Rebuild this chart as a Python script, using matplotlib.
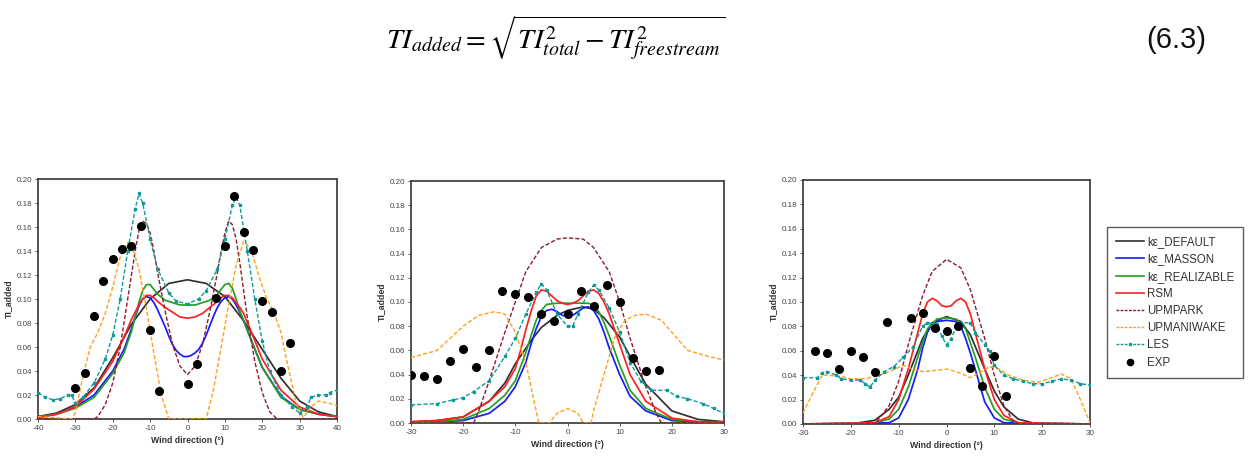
import matplotlib
matplotlib.use("Agg")
import matplotlib.pyplot as plt
from matplotlib.lines import Line2D

plt.rcParams['font.family'] = ['Liberation Sans', 'DejaVu Sans']
plt.rcParams['mathtext.fontset'] = 'stix'
plt.rcParams['axes.unicode_minus'] = False

# ---------------- Panel 1 data ----------------
p1_def_x = [-40, -35, -30, -25, -20, -15, -10, -5, 0, 5, 10, 15, 20, 25, 30, 35, 40]
p1_def_y = [0.002, 0.005, 0.012, 0.026, 0.051, 0.079, 0.100, 0.113, 0.116, 0.113, 0.102, 0.082, 0.058, 0.034, 0.015, 0.006, 0.002]
p1_mas_x = [-40, -35, -30, -25, -20, -17, -15, -14, -13, -12, -11, -10, -9, -8, -7, -6, -5, -4, -3, -2, -1, 0,
            1, 2, 3, 4, 5, 6, 7, 8, 9, 10, 11, 12, 13, 14, 15, 17, 20, 25, 30, 35, 40]
p1_mas_y = [0.002, 0.004, 0.010, 0.020, 0.040, 0.058, 0.075, 0.085, 0.094, 0.100, 0.102, 0.101, 0.097, 0.091, 0.084, 0.077, 0.069, 0.062, 0.057, 0.054, 0.052, 0.052,
            0.053, 0.055, 0.058, 0.063, 0.070, 0.078, 0.086, 0.093, 0.098, 0.101, 0.102, 0.100, 0.095, 0.089, 0.082, 0.066, 0.043, 0.019, 0.008, 0.004, 0.002]
p1_rea_x = [-40, -35, -30, -25, -20, -17, -15, -14, -13, -12, -11, -10, -9, -8, -6, -4, -2, 0, 2, 4, 6, 8, 9, 10, 11, 12, 13, 14, 15, 17, 20, 25, 30, 35, 40]
p1_rea_y = [0.002, 0.004, 0.009, 0.018, 0.038, 0.055, 0.073, 0.085, 0.097, 0.107, 0.112, 0.112, 0.108, 0.104, 0.099, 0.097, 0.095, 0.095, 0.095, 0.097, 0.099, 0.104, 0.108, 0.112, 0.113, 0.109, 0.100, 0.090, 0.082, 0.066, 0.043, 0.018, 0.008, 0.004, 0.002]
p1_rsm_x = [-40, -35, -30, -25, -20, -17, -15, -14, -13, -12, -11, -10, -9, -8, -6, -4, -2, 0, 2, 4, 6, 8, 9, 10, 11, 12, 13, 14, 15, 17, 20, 25, 30, 35, 40]
p1_rsm_y = [0.001, 0.004, 0.010, 0.025, 0.048, 0.068, 0.083, 0.089, 0.095, 0.100, 0.103, 0.103, 0.101, 0.098, 0.093, 0.089, 0.085, 0.084, 0.085, 0.088, 0.093, 0.098, 0.101, 0.103, 0.103, 0.101, 0.097, 0.093, 0.088, 0.073, 0.050, 0.024, 0.010, 0.004, 0.002]
p1_park_x = [-40, -25, -24, -22, -20, -18, -16, -14, -13, -12, -11, -10, -9, -8, -6, -4, -2, 0, 2, 4, 6, 8, 9, 10, 11, 12, 13, 14, 16, 18, 20, 22, 24, 40]
p1_park_y = [0.0, 0.0, 0.002, 0.012, 0.030, 0.060, 0.100, 0.140, 0.157, 0.165, 0.163, 0.155, 0.140, 0.122, 0.090, 0.062, 0.044, 0.037, 0.044, 0.062, 0.090, 0.122, 0.140, 0.155, 0.165, 0.162, 0.150, 0.130, 0.085, 0.048, 0.022, 0.006, 0.0, 0.0]
p1_mani_x = [-40, -35, -31, -30, -28, -26, -24, -22, -20, -18, -16, -15, -13, -11, -9, -7, -5, 5, 7, 9, 11, 13, 15, 17, 19, 21, 23, 25, 27, 29, 31, 33, 35, 38, 40]
p1_mani_y = [0.002, 0.001, 0.0, 0.005, 0.035, 0.060, 0.072, 0.088, 0.110, 0.135, 0.147, 0.146, 0.125, 0.092, 0.055, 0.020, 0.0, 0.0, 0.025, 0.060, 0.095, 0.128, 0.148, 0.142, 0.120, 0.102, 0.090, 0.072, 0.042, 0.015, 0.001, 0.010, 0.015, 0.013, 0.011]
p1_les_x = [-40, -38, -36, -34, -32, -31, -30, -28, -25, -22, -20, -18, -16, -14, -13, -12, -10, -8, -5, -3, 0, 3, 5, 8, 10, 12, 13, 14, 16, 18, 20, 22, 25, 28, 30, 32, 33, 35, 37, 38, 40]
p1_les_y = [0.022, 0.018, 0.016, 0.017, 0.020, 0.020, 0.013, 0.018, 0.030, 0.050, 0.070, 0.100, 0.140, 0.175, 0.188, 0.180, 0.150, 0.125, 0.105, 0.098, 0.096, 0.100, 0.107, 0.125, 0.150, 0.178, 0.185, 0.178, 0.140, 0.100, 0.065, 0.040, 0.020, 0.010, 0.005, 0.010, 0.018, 0.020, 0.020, 0.022, 0.024]
p1_exp_x = [-30, -27.5, -25, -22.5, -20, -17.5, -15, -12.5, -10, -7.5, 0, 2.5, 7.5, 10, 12.5, 15, 17.5, 20, 22.5, 25, 27.5]
p1_exp_y = [0.026, 0.038, 0.086, 0.115, 0.133, 0.142, 0.144, 0.161, 0.074, 0.023, 0.029, 0.046, 0.101, 0.144, 0.186, 0.156, 0.141, 0.098, 0.089, 0.040, 0.063]

# ---------------- Panel 2 data ----------------
p2_def_x = [-30, -25, -20, -15, -12, -10, -7, -5, -2, 0, 3, 5, 7, 10, 12, 15, 20, 25, 30]
p2_def_y = [0.001, 0.002, 0.005, 0.018, 0.033, 0.049, 0.068, 0.079, 0.089, 0.093, 0.096, 0.094, 0.087, 0.071, 0.055, 0.032, 0.010, 0.003, 0.001]
p2_mas_x = [-30, -25, -20, -15, -12, -10, -8, -7, -6, -5, -4, -3, -2, -1, 0, 1, 2, 3, 4, 5, 6, 7, 8, 10, 12, 15, 20, 25, 30]
p2_mas_y = [0.0, 0.001, 0.002, 0.008, 0.018, 0.030, 0.050, 0.065, 0.078, 0.088, 0.093, 0.094, 0.092, 0.089, 0.088, 0.089, 0.092, 0.095, 0.096, 0.093, 0.086, 0.075, 0.062, 0.040, 0.022, 0.010, 0.002, 0.001, 0.0]
p2_rea_x = [-30, -25, -20, -15, -12, -10, -8, -7, -6, -5, -4, -2, 0, 2, 4, 5, 6, 7, 8, 10, 12, 15, 20, 25, 30]
p2_rea_y = [0.0, 0.001, 0.003, 0.012, 0.023, 0.035, 0.058, 0.072, 0.085, 0.093, 0.098, 0.099, 0.099, 0.099, 0.099, 0.097, 0.092, 0.083, 0.072, 0.048, 0.027, 0.012, 0.003, 0.001, 0.0]
p2_rsm_x = [-30, -25, -20, -15, -12, -10, -9, -8, -7, -6, -5, -4, -3, -2, -1, 0, 1, 2, 3, 4, 5, 6, 7, 8, 10, 12, 15, 20, 25, 30]
p2_rsm_y = [0.001, 0.002, 0.005, 0.018, 0.030, 0.045, 0.060, 0.077, 0.092, 0.105, 0.110, 0.109, 0.105, 0.101, 0.099, 0.098, 0.099, 0.101, 0.105, 0.109, 0.110, 0.107, 0.100, 0.090, 0.065, 0.040, 0.018, 0.004, 0.001, 0.001]
p2_park_x = [-30, -18, -17, -15, -12, -10, -8, -5, -2, 0, 3, 5, 8, 10, 12, 15, 17, 18, 30]
p2_park_y = [0.0, 0.0, 0.010, 0.035, 0.075, 0.100, 0.125, 0.145, 0.152, 0.153, 0.152, 0.145, 0.125, 0.100, 0.070, 0.030, 0.008, 0.0, 0.0]
p2_mani_x = [-30, -25, -20, -17, -14, -12, -10, -8, -6, -5.5, -3.5, -2, 0, 2, 3, 4.5, 5, 7, 9, 11, 13, 15, 18, 20, 23, 27, 30]
p2_mani_y = [0.054, 0.060, 0.080, 0.089, 0.092, 0.090, 0.075, 0.050, 0.010, 0.0, 0.0, 0.008, 0.012, 0.008, 0.0, 0.0, 0.010, 0.040, 0.070, 0.085, 0.089, 0.090, 0.085, 0.075, 0.060, 0.055, 0.052]
p2_les_x = [-30, -25, -22, -20, -18, -15, -12, -10, -8, -6, -5, -4, -2, 0, 1, 2, 4, 5, 6, 8, 10, 12, 14, 16, 19, 21, 23, 26, 28, 30]
p2_les_y = [0.015, 0.016, 0.019, 0.021, 0.026, 0.035, 0.055, 0.070, 0.090, 0.108, 0.115, 0.110, 0.090, 0.080, 0.080, 0.090, 0.108, 0.114, 0.110, 0.095, 0.075, 0.050, 0.035, 0.027, 0.027, 0.022, 0.020, 0.016, 0.012, 0.008]
p2_exp_x = [-30, -27.5, -25, -22.5, -20, -17.5, -15, -12.5, -10, -7.5, -5, -2.5, 0, 2.5, 5, 7.5, 10, 12.5, 15, 17.5]
p2_exp_y = [0.040, 0.039, 0.036, 0.051, 0.061, 0.046, 0.060, 0.109, 0.107, 0.104, 0.090, 0.084, 0.090, 0.109, 0.097, 0.114, 0.100, 0.054, 0.043, 0.044]

# ---------------- Panel 3 data ----------------
p3_def_x = [-30, -20, -15, -12, -10, -8, -5, -3, 0, 3, 5, 8, 10, 12, 15, 18, 20, 30]
p3_def_y = [0.0, 0.0, 0.003, 0.012, 0.022, 0.040, 0.070, 0.083, 0.088, 0.084, 0.073, 0.045, 0.027, 0.014, 0.004, 0.001, 0.0, 0.0]
p3_mas_x = [-30, -12, -10, -8, -6, -5, -4, -3, -2, 0, 2, 3, 4, 5, 6, 8, 10, 12, 30]
p3_mas_y = [0.0, 0.001, 0.005, 0.020, 0.045, 0.062, 0.075, 0.082, 0.084, 0.085, 0.084, 0.080, 0.070, 0.058, 0.045, 0.018, 0.005, 0.001, 0.0]
p3_rea_x = [-30, -15, -12, -10, -8, -6, -4, -2, 0, 2, 4, 6, 8, 10, 12, 15, 30]
p3_rea_y = [0.0, 0.001, 0.004, 0.012, 0.030, 0.055, 0.078, 0.086, 0.087, 0.086, 0.078, 0.055, 0.030, 0.012, 0.004, 0.001, 0.0]
p3_rsm_x = [-30, -15, -12, -10, -8, -6, -5, -4, -3, -2, -1, 0, 1, 2, 3, 4, 5, 6, 8, 10, 12, 15, 30]
p3_rsm_y = [0.0, 0.001, 0.006, 0.020, 0.045, 0.075, 0.090, 0.100, 0.103, 0.101, 0.097, 0.096, 0.097, 0.101, 0.103, 0.100, 0.090, 0.075, 0.045, 0.020, 0.007, 0.001, 0.0]
p3_park_x = [-30, -15, -12, -10, -8, -5, -3, 0, 3, 5, 8, 10, 12, 14, 15, 30]
p3_park_y = [0.0, 0.0, 0.015, 0.035, 0.065, 0.105, 0.125, 0.135, 0.128, 0.110, 0.070, 0.040, 0.015, 0.002, 0.0, 0.0]
p3_mani_x = [-30, -28, -26, -25, -22, -20, -17, -14, -12, -9, -7, -5, -2, 0, 2, 5, 7, 9, 11, 13, 16, 19, 22, 24, 26, 28, 30]
p3_mani_y = [0.009, 0.025, 0.040, 0.040, 0.039, 0.037, 0.037, 0.040, 0.043, 0.048, 0.045, 0.043, 0.044, 0.045, 0.043, 0.038, 0.042, 0.047, 0.045, 0.040, 0.036, 0.034, 0.038, 0.041, 0.037, 0.020, 0.001]
p3_les_x = [-30, -27, -26, -25, -23, -22, -20, -18, -17, -16, -15, -13, -11, -9, -7, -5, -4, -2, -1, 0, 1, 2, 3, 5, 6, 8, 9, 10, 12, 14, 16, 18, 20, 22, 24, 26, 28, 30]
p3_les_y = [0.038, 0.038, 0.042, 0.043, 0.040, 0.037, 0.036, 0.036, 0.033, 0.030, 0.036, 0.043, 0.047, 0.055, 0.063, 0.080, 0.083, 0.082, 0.072, 0.065, 0.070, 0.080, 0.083, 0.083, 0.075, 0.065, 0.060, 0.048, 0.040, 0.037, 0.035, 0.033, 0.033, 0.035, 0.037, 0.036, 0.033, 0.032]
p3_exp_x = [-27.5, -25, -22.5, -20, -17.5, -15, -12.5, -7.5, -5, -2.5, 0, 2.5, 5, 7.5, 10, 12.5]
p3_exp_y = [0.060, 0.058, 0.045, 0.060, 0.055, 0.043, 0.084, 0.087, 0.091, 0.079, 0.076, 0.080, 0.046, 0.031, 0.056, 0.023]

labels = ["k\u03b5_DEFAULT", "k\u03b5_MASSON", "k\u03b5_REALIZABLE", "RSM", "UPMPARK", "UPMANIWAKE", "LES", "EXP"]
colors = ["#303030", "#1a1aff", "#22a022", "#ff2020", "#8b1a2a", "#ffa020", "#119999", "black"]

panels = [
    dict(pos=(38, 179, 337, 419), xlim=(-40, 40), xt=range(-40, 41, 10),
         data=[(p1_def_x, p1_def_y), (p1_mas_x, p1_mas_y), (p1_rea_x, p1_rea_y), (p1_rsm_x, p1_rsm_y),
               (p1_park_x, p1_park_y), (p1_mani_x, p1_mani_y), (p1_les_x, p1_les_y), (p1_exp_x, p1_exp_y)]),
    dict(pos=(411, 181, 724, 423), xlim=(-30, 30), xt=range(-30, 31, 10),
         data=[(p2_def_x, p2_def_y), (p2_mas_x, p2_mas_y), (p2_rea_x, p2_rea_y), (p2_rsm_x, p2_rsm_y),
               (p2_park_x, p2_park_y), (p2_mani_x, p2_mani_y), (p2_les_x, p2_les_y), (p2_exp_x, p2_exp_y)]),
    dict(pos=(803, 180, 1090, 424), xlim=(-30, 30), xt=range(-30, 31, 10),
         data=[(p3_def_x, p3_def_y), (p3_mas_x, p3_mas_y), (p3_rea_x, p3_rea_y), (p3_rsm_x, p3_rsm_y),
               (p3_park_x, p3_park_y), (p3_mani_x, p3_mani_y), (p3_les_x, p3_les_y), (p3_exp_x, p3_exp_y)]),
]

W, H = 1251, 471
fig = plt.figure(figsize=(W / 100, H / 100), dpi=100)
fig.patch.set_facecolor("white")

for p in panels:
    l, t, r, b = p["pos"]
    ax = fig.add_axes([l / W, 1 - b / H, (r - l) / W, (b - t) / H])
    for i, (xs, ys) in enumerate(p["data"]):
        c = colors[i]
        if i < 4:
            ax.plot(xs, ys, color=c, lw=1.25, zorder=3, solid_joinstyle="round")
        elif i < 6:
            ax.plot(xs, ys, color=c, lw=1.0, dashes=(3, 1.5), zorder=3)
        elif i == 6:
            ax.plot(xs, ys, color=c, lw=1.0, dashes=(3, 1.5), marker='s', ms=1.8, zorder=3)
        else:
            ax.plot(xs, ys, 'o', color=c, ms=5.5, lw=0, zorder=4)
    ax.set_xlim(*p["xlim"])
    ax.set_ylim(0, 0.2)
    ax.set_xticks(list(p["xt"]))
    ax.set_yticks([i * 0.02 for i in range(11)])
    ax.set_yticklabels(["%.2f" % (i * 0.02) for i in range(11)])
    ax.tick_params(labelsize=5.8, colors="#444444", length=2, width=0.6, direction="out", pad=2)
    for s in ax.spines.values():
        s.set_color("#444444")
        s.set_linewidth(1.3)
    ax.set_xlabel("Wind direction (\u00b0)", fontsize=6.3, fontweight="bold", color="#333333", labelpad=3)
    ax.set_ylabel("TI_added", fontsize=6.3, fontweight="bold", color="#333333", labelpad=3)

leg_handles = []
for i in range(8):
    c = colors[i]
    if i < 4:
        leg_handles.append(Line2D([], [], color=c, lw=1.2))
    elif i < 6:
        leg_handles.append(Line2D([], [], color=c, lw=1.0, dashes=(2, 1)))
    elif i == 6:
        leg_handles.append(Line2D([], [], color=c, lw=1.0, dashes=(2, 1), marker='s', ms=1.8))
    else:
        leg_handles.append(Line2D([], [], color=c, marker='o', ms=4.5, lw=0))

leg = fig.legend(leg_handles, labels, loc="upper left", bbox_to_anchor=(1107 / W, 1 - 227 / H),
                 fontsize=8.3, frameon=True, fancybox=False, edgecolor="#333333",
                 handlelength=2.4, labelspacing=0.45, borderpad=0.8, handletextpad=0.25,
                 borderaxespad=0)
leg.get_frame().set_linewidth(1.0)
for t in leg.get_texts():
    t.set_color("#333333")

fig.text(556 / W, 1 - 38 / H, r"$TI_{added} = \sqrt{TI_{total}^{2} - TI_{freestream}^{2}}$",
         fontsize=20.5, ha="center", va="center", color="black")
fig.text(1176 / W, 1 - 40 / H, "(6.3)", fontsize=21, ha="center", va="center", color="#111111")

fig.savefig("out.png", dpi=100)
